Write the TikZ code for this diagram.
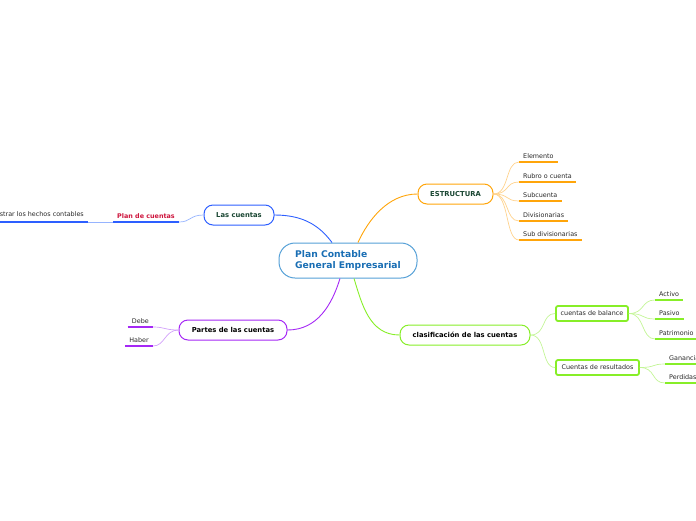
\documentclass[tikz,border=0pt]{standalone}
\usepackage{fontspec}
\setmainfont{DejaVu Sans}
\definecolor{cblue}{RGB}{85,160,215}
\definecolor{ctext}{RGB}{25,110,180}
\definecolor{bblue}{RGB}{45,95,255}
\definecolor{lblue}{RGB}{150,180,255}
\definecolor{ocol}{RGB}{255,165,10}
\definecolor{lorange}{RGB}{255,210,140}
\definecolor{pcol}{RGB}{165,40,245}
\definecolor{lpurple}{RGB}{210,160,250}
\definecolor{gcol}{RGB}{135,238,40}
\definecolor{lgreen}{RGB}{195,245,150}
\definecolor{dgreen}{RGB}{25,70,50}
\definecolor{rtext}{RGB}{205,20,60}
\definecolor{leaftext}{RGB}{40,40,40}
\begin{document}
\begin{tikzpicture}[x=1pt,y=-1pt,
  every node/.style={inner sep=0pt},
  central/.style={draw=cblue, line width=1pt, rounded corners=16pt, fill=white, minimum width=138pt, minimum height=35pt, align=left, text=ctext, font=\fontsize{9.2}{11.5}\selectfont\bfseries},
  mainbox/.style={draw, line width=1pt, rounded corners=9pt, fill=white, minimum height=20pt, font=\fontsize{6.8}{8}\selectfont\bfseries},
  subbox/.style={draw=gcol, line width=1.8pt, rounded corners=2pt, fill=white, minimum height=15pt, text=leaftext, font=\fontsize{6.4}{8}\selectfont},
  leaf/.style={inner xsep=4pt, inner ysep=3.5pt, text=leaftext, font=\fontsize{6.4}{8}\selectfont},
  uline/.style={line width=1.8pt},
  conn/.style={line width=0.9pt},
  subconn/.style={line width=0.7pt}]
\useasboundingbox (0,0) rectangle (696,520);

% nodes
\node[central] (c) at (348,260.5) {Plan Contable\\General Empresarial};
\node[mainbox, draw=ocol, text=dgreen, minimum width=75pt] (estr) at (455.5,194) {ESTRUCTURA};
\node[mainbox, draw=bblue, text=dgreen, minimum width=70pt] (lc) at (239,215) {Las cuentas};
\node[mainbox, draw=pcol, text=black, minimum width=108pt] (partes) at (233,330) {Partes de las cuentas};
\node[mainbox, draw=gcol, text=black, minimum width=130pt] (clas) at (465,335) {clasificación de las cuentas};
\node[subbox, minimum width=72pt] (cb) at (592,313.5) {cuentas de balance};
\node[subbox, minimum width=83pt] (cr) at (597.5,367.5) {Cuentas de resultados};

% leaves ESTRUCTURA
\node[leaf, anchor=south west] (e1) at (519,162) {Elemento};
\node[leaf, anchor=south west] (e2) at (519,182) {Rubro o cuenta};
\node[leaf, anchor=south west] (e3) at (519,201) {Subcuenta};
\node[leaf, anchor=south west] (e4) at (519,221) {Divisionarias};
\node[leaf, anchor=south west] (e5) at (519,240) {Sub divisionarias};
\foreach \n in {e1,e2,e3,e4,e5}{
  \draw[subconn, lorange] (estr.east) .. controls +(16,0) and +(-14,0) .. (\n.south west);
  \draw[uline, ocol] (\n.south west) -- (\n.south east);
}

% Las cuentas
\node[leaf, anchor=south east, text=rtext, font=\fontsize{6.4}{8}\selectfont\bfseries] (plan) at (179,222) {Plan de cuentas};
\node[leaf, anchor=south east] (reg) at (88,222) {Registrar los hechos contables};
\draw[subconn, lblue] (lc.west) .. controls +(-14,0) and +(12,0) .. (plan.south east);
\draw[uline, bblue] (plan.south west) -- (plan.south east);
\draw[subconn, lblue] (plan.south west) .. controls +(-12,0) and +(12,0) .. (reg.south east);
\draw[uline, bblue] (reg.south west) -- (reg.south east);

% Partes
\node[leaf, anchor=south east] (debe) at (153,327) {Debe};
\node[leaf, anchor=south east] (haber) at (153,346) {Haber};
\foreach \n in {debe,haber}{
  \draw[subconn, lpurple] (partes.west) .. controls +(-14,0) and +(12,0) .. (\n.south east);
  \draw[uline, pcol] (\n.south west) -- (\n.south east);
}

% clasificacion
\draw[subconn, lgreen] (clas.east) .. controls +(16,0) and +(-14,0) .. (cb.west);
\draw[subconn, lgreen] (clas.east) .. controls +(16,0) and +(-14,0) .. (cr.west);
\node[leaf, anchor=south west] (a1) at (655,300) {Activo};
\node[leaf, anchor=south west] (a2) at (655,319) {Pasivo};
\node[leaf, anchor=south west] (a3) at (655,339) {Patrimonio};
\foreach \n in {a1,a2,a3}{
  \draw[subconn, lgreen] (cb.east) .. controls +(16,0) and +(-14,0) .. (\n.south west);
  \draw[uline, gcol] (\n.south west) -- (\n.south east);
}
\node[leaf, anchor=south west] (r1) at (665,364) {Ganancias};
\node[leaf, anchor=south west] (r2) at (665,383) {Perdidas};
\foreach \n in {r1,r2}{
  \draw[subconn, lgreen] (cr.east) .. controls +(16,0) and +(-14,0) .. (\n.south west);
  \draw[uline, gcol] (\n.south west) -- (\n.south east);
}

% main connectors
\draw[conn, bblue] ([xshift=-16pt]c.north) .. controls +(-12,-16) and +(30,0) .. (lc.east);
\draw[conn, ocol] ([xshift=10pt]c.north) .. controls +(10,-22) and +(-30,0) .. (estr.west);
\draw[conn, pcol] ([xshift=-8pt]c.south) .. controls +(-8,26) and +(30,0) .. (partes.east);
\draw[conn, gcol] ([xshift=6pt]c.south) .. controls +(8,26) and +(-30,0) .. (clas.west);
\end{tikzpicture}
\end{document}
